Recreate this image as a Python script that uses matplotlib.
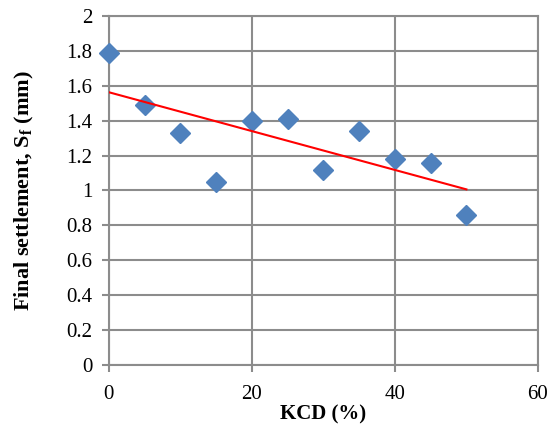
import numpy as np
import matplotlib.pyplot as plt

plt.rcParams['font.family'] = ['Liberation Serif', 'DejaVu Serif']
plt.rcParams['mathtext.fontset'] = 'custom'
plt.rcParams['mathtext.rm'] = 'Liberation Serif'
plt.rcParams['mathtext.bf'] = 'Liberation Serif:bold'

kcd = [0, 5, 10, 15, 20, 25, 30, 35, 40, 45, 50]
settlement = [1.79, 1.49, 1.33, 1.05, 1.40, 1.41, 1.12, 1.34, 1.18, 1.16, 0.86]

x_ticks = [0, 20, 40, 60]
y_ticks = [0, 0.2, 0.4, 0.6, 0.8, 1, 1.2, 1.4, 1.6, 1.8, 2]
y_labels = ['0', '0.2', '0.4', '0.6', '0.8', '1', '1.2', '1.4', '1.6', '1.8', '2']

fig = plt.figure(figsize=(5.5, 4.3), dpi=100)
ax = fig.add_axes([0.198, 0.151, 0.78, 0.812])

gray = '#8c8c8c'
ax.grid(color=gray, lw=1.5)
ax.set_axisbelow(True)

ax.plot(kcd, settlement, ls='none', marker='D', ms=10, color='#4f81bd',
        zorder=3, clip_on=False)

# linear trendline
k, b = np.polyfit(kcd, settlement, 1)
xf = np.array([kcd[0], kcd[-1]])
ax.plot(xf, k * xf + b, color='red', lw=1.5, zorder=4)

ax.set_xlim(0, 60)
ax.set_ylim(0, 2)
ax.set_xticks(x_ticks)
ax.set_yticks(y_ticks)
ax.set_yticklabels(y_labels)

for s in ax.spines.values():
    s.set_color(gray)
    s.set_linewidth(1.5)

ax.tick_params(colors=gray, width=1.5, length=5, labelcolor='black', labelsize=15)
ax.tick_params(axis='x', pad=9)
ax.tick_params(axis='y', pad=7)

ax.set_xlabel('KCD (%)', fontsize=15, fontweight='bold', labelpad=1)
ax.set_ylabel(r'Final settlement, S$_{\mathbf{f}}$ (mm)', fontsize=16, fontweight='bold', labelpad=22)

fig.savefig('out.png', dpi=100)
